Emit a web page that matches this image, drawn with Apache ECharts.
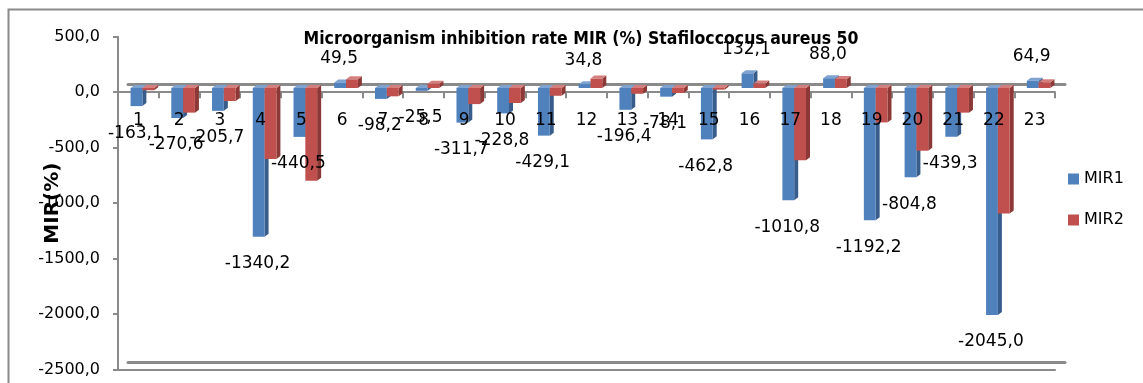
<!DOCTYPE html>
<html>
<head>
<meta charset="utf-8">
<script src="https://cdn.jsdelivr.net/npm/echarts@6/dist/echarts.min.js"></script>
<style>
  html, body { margin: 0; padding: 0; background: #ffffff; }
  #chart { width: 1143px; height: 383px; }
</style>
</head>
<body>
<div id="chart"></div>
<script>
// Sample numbers on the category axis
const categories = ['1','2','3','4','5','6','7','8','9','10','11','12','13','14','15','16','17','18','19','20','21','22','23'];

// Microorganism inhibition rate, first measurement (%)
const mir1 = [-163.1, -270.6, -205.7, -1340.2, -440.5, 49.5, -98.2, -25.5, -311.7, -228.8, -429.1, 34.8,
              -196.4, -78.1, -462.8, 132.1, -1010.8, 88.0, -1192.2, -804.8, -439.3, -2045.0, 64.9];

// Microorganism inhibition rate, second measurement (%)
const mir2 = [-20, -222, -117, -640, -835, 78, -75, 38, -145, -135, -70, 85,
              -52, -45, -15, 40, -650, 82, -310, -565, -222, -1130, 52];

const seriesNames = ['MIR1', 'MIR2'];

// Value axis range
const yMin = -2500;
const yMax = 500;
const yStep = 500;

const faces = [
  { front: '#4F81BD', side: '#385D8A', top: '#7EA3D1' },
  { front: '#C0504D', side: '#8C3836', top: '#D47F7D' }
];

const axisGray = '#8a8a8a';
const font = 'DejaVu Sans';

function fmt(v) {
  return v.toFixed(1).replace('.', ',');
}

// Column with a shaded side and top face for a simple 3D look
function columnRenderer(s) {
  return function (params, api) {
    const cat = api.value(0);
    const v = api.value(1);
    const p0 = api.coord([cat, 0]);
    const p1 = api.coord([cat, v]);
    const band = api.size([1, 0])[0];
    const w = band * 0.29;
    const dx = 4, dy = 3;
    const x = s === 0 ? p0[0] - w : p0[0];
    const yTop = Math.min(p0[1], p1[1]);
    const yBot = Math.max(p0[1], p1[1]);
    const c = faces[s];
    return {
      type: 'group',
      children: [
        { type: 'polygon', shape: { points: [[x + w, yTop], [x + w + dx, yTop - dy], [x + w + dx, yBot - dy], [x + w, yBot]] }, style: { fill: c.side } },
        { type: 'polygon', shape: { points: [[x, yTop], [x + dx, yTop - dy], [x + w + dx, yTop - dy], [x + w, yTop]] }, style: { fill: c.top } },
        { type: 'rect', shape: { x: x, y: yTop, width: w, height: yBot - yTop }, style: { fill: c.front } }
      ]
    };
  };
}

// Value labels of the first measurement, just past the end of each column
function valueLabel(params, api) {
  const cat = api.value(0);
  const v = api.value(1);
  const p0 = api.coord([cat, 0]);
  const p1 = api.coord([cat, v]);
  return {
    type: 'text',
    x: p0[0] - 7,
    y: v < 0 ? p1[1] + 27 : p1[1] - 24,
    style: {
      text: fmt(v),
      fill: '#000000',
      fontSize: 17,
      fontFamily: font,
      align: 'center',
      verticalAlign: 'middle'
    }
  };
}

const el = document.getElementById('chart');
const chart = echarts.init(el, null, { renderer: 'canvas' });
const H = chart.getHeight();

// Front and back planes of the plot box
const frontPlane = { left: 118, right: 88, top: 36.7, bottom: 13.5 };
const backPlane = { left: 128, right: 78, top: 28.5, bottom: 20.7 };
const columnPlane = { left: 122, right: 84, top: 32.5, bottom: 17.5 };

// Same plane, cut off at the value-axis zero so its bottom edge is the zero line
function abovePlaneZero(g) {
  const h = H - g.top - g.bottom;
  const zeroY = g.top + h * yMax / (yMax - yMin);
  return { left: g.left, right: g.right, top: g.top, bottom: H - zeroY };
}

const hiddenCat = (grid) => ({ gridIndex: grid, type: 'category', data: categories, show: false });
const hiddenVal = (grid) => ({ gridIndex: grid, type: 'value', min: yMin, max: yMax, interval: yStep, show: false });
const lineAxis = (grid, width, extra) => Object.assign({
  gridIndex: grid, type: 'category', data: categories, position: 'bottom',
  axisLine: { onZero: false, lineStyle: { color: axisGray, width: width } },
  axisTick: { show: false }, axisLabel: { show: false }, splitLine: { show: false }
}, extra || {});

chart.setOption({
  animation: false,
  backgroundColor: '#ffffff',
  title: {
    text: 'Microorganism inhibition rate MIR (%) Stafiloccocus aureus 50',
    left: 581,
    top: 30,
    padding: 0,
    textAlign: 'center',
    textStyle: { fontFamily: 'DejaVu Sans Condensed, DejaVu Sans', fontWeight: 'bold', fontSize: 17.5, color: '#000000' }
  },
  legend: {
    orient: 'vertical',
    left: 1063,
    top: 166,
    itemWidth: 11,
    itemHeight: 11,
    itemGap: 25,
    icon: 'rect',
    selectedMode: false,
    data: seriesNames,
    textStyle: { fontFamily: font, fontSize: 16, color: '#000000', padding: [0, 0, 0, 0] }
  },
  graphic: [
    { type: 'rect', left: 6, top: 7, shape: { width: 1200, height: 500 }, style: { fill: 'none', stroke: axisGray, lineWidth: 2 }, silent: true }
  ],
  grid: [
    Object.assign({}, frontPlane),     // 0: front plane, value axis and front floor edge
    Object.assign({}, backPlane),      // 1: back floor edge
    Object.assign({}, columnPlane),    // 2: columns
    abovePlaneZero(frontPlane),        // 3: front zero line, ticks, category numbers
    abovePlaneZero(backPlane)          // 4: back zero line
  ],
  xAxis: [
    lineAxis(0, 2),
    lineAxis(1, 3),
    hiddenCat(2),
    lineAxis(3, 2, { axisTick: { show: true, length: 6, lineStyle: { color: axisGray, width: 2 } } }),
    lineAxis(3, 2, {
      z: 10,
      axisLine: { onZero: false, lineStyle: { opacity: 0 } },
      axisLabel: { show: true, margin: 20, color: '#000000', fontSize: 17, fontFamily: font }
    }),
    lineAxis(4, 3)
  ],
  yAxis: [
    {
      gridIndex: 0, type: 'value', min: yMin, max: yMax, interval: yStep, position: 'left',
      axisLine: { show: true, lineStyle: { color: axisGray, width: 2 } },
      axisTick: { show: true, length: 5, lineStyle: { color: axisGray, width: 2 } },
      splitLine: { show: false },
      axisLabel: { formatter: fmt, color: '#000000', fontSize: 16, fontFamily: font, margin: 18 },
      name: 'MIR(%)',
      nameLocation: 'middle',
      nameRotate: 90,
      nameGap: 55,
      nameMoveOverlap: false,
      nameTextStyle: { fontFamily: font, fontWeight: 'bold', fontSize: 20, color: '#000000' }
    },
    hiddenVal(1),
    hiddenVal(2),
    hiddenVal(3),
    hiddenVal(4)
  ],
  series: [
    {
      name: seriesNames[0], type: 'custom', xAxisIndex: 2, yAxisIndex: 2,
      itemStyle: { color: faces[0].front },
      encode: { x: 0, y: 1 },
      data: mir1.map((v, i) => [i, v]),
      renderItem: columnRenderer(0)
    },
    {
      name: seriesNames[1], type: 'custom', xAxisIndex: 2, yAxisIndex: 2,
      itemStyle: { color: faces[1].front },
      encode: { x: 0, y: 1 },
      data: mir2.map((v, i) => [i, v]),
      renderItem: columnRenderer(1)
    },
    {
      name: 'MIR1 values', type: 'custom', xAxisIndex: 2, yAxisIndex: 2, z: 6, silent: true,
      encode: { x: 0, y: 1 },
      data: mir1.map((v, i) => [i, v]),
      renderItem: valueLabel
    }
  ]
});
</script>
</body>
</html>
